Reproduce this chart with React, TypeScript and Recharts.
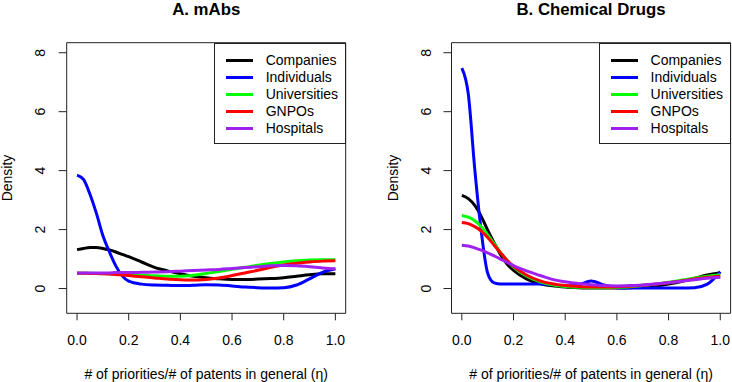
import { LineChart, Line, XAxis, YAxis, ReferenceArea, Legend, Label } from 'recharts'

// evaluation grid for the density curves
const xGrid = [
  0, 0.025, 0.05, 0.075, 0.1, 0.125, 0.15, 0.175, 0.2, 0.25, 0.3, 0.35, 0.4,
  0.45, 0.5, 0.55, 0.6, 0.65, 0.7, 0.75, 0.8, 0.85, 0.9, 0.95, 1,
]
const xTicks = [0, 0.2, 0.4, 0.6, 0.8, 1]
const yTicks = [0, 2, 4, 6, 8]

const groups = ['Companies', 'Individuals', 'Universities', 'GNPOs', 'Hospitals']
const groupColors = ['#000000', '#0000ff', '#00ff00', '#ff0000', '#a020f0']

// A. mAbs
const mabsCompanies = [1.32, 1.36, 1.39, 1.39, 1.36, 1.31, 1.24, 1.16, 1.08, 0.9, 0.72, 0.6, 0.5, 0.42, 0.37, 0.33, 0.31, 0.31, 0.32, 0.34, 0.37, 0.42, 0.47, 0.5, 0.5]
const mabsIndividuals = [3.85, 3.7, 3.2, 2.55, 1.8, 1.25, 0.77, 0.43, 0.25, 0.15, 0.12, 0.11, 0.1, 0.11, 0.13, 0.12, 0.09, 0.05, 0.03, 0.02, 0.03, 0.12, 0.33, 0.55, 0.67]
const mabsUniversities = [0.52, 0.52, 0.52, 0.51, 0.51, 0.5, 0.49, 0.48, 0.47, 0.45, 0.43, 0.42, 0.42, 0.45, 0.51, 0.58, 0.65, 0.72, 0.79, 0.85, 0.9, 0.94, 0.97, 0.98, 0.98]
const mabsGnpos = [0.52, 0.52, 0.51, 0.51, 0.5, 0.49, 0.48, 0.46, 0.44, 0.4, 0.36, 0.32, 0.3, 0.29, 0.31, 0.36, 0.44, 0.53, 0.62, 0.72, 0.8, 0.86, 0.9, 0.93, 0.94]
const mabsHospitals = [0.53, 0.53, 0.53, 0.53, 0.53, 0.53, 0.54, 0.54, 0.54, 0.55, 0.56, 0.57, 0.59, 0.61, 0.63, 0.65, 0.68, 0.71, 0.74, 0.77, 0.78, 0.77, 0.74, 0.7, 0.66]

// B. Chemical Drugs
const drugCompanies = [3.16, 3.05, 2.82, 2.45, 1.98, 1.55, 1.15, 0.83, 0.62, 0.33, 0.17, 0.09, 0.05, 0.03, 0.02, 0.02, 0.02, 0.03, 0.05, 0.09, 0.15, 0.24, 0.35, 0.46, 0.54]
const drugIndividuals = [7.48, 6.6, 4.05, 1.95, 0.52, 0.19, 0.15, 0.15, 0.15, 0.15, 0.15, 0.13, 0.08, 0.12, 0.26, 0.12, 0.03, 0.02, 0.02, 0.02, 0.02, 0.02, 0.03, 0.15, 0.57]
const drugUniversities = [2.48, 2.42, 2.3, 2.1, 1.82, 1.52, 1.22, 0.95, 0.73, 0.43, 0.24, 0.13, 0.07, 0.04, 0.03, 0.03, 0.04, 0.06, 0.1, 0.15, 0.21, 0.28, 0.35, 0.42, 0.47]
const drugGnpos = [2.24, 2.2, 2.1, 1.95, 1.73, 1.47, 1.21, 0.96, 0.75, 0.46, 0.27, 0.16, 0.1, 0.07, 0.05, 0.05, 0.06, 0.08, 0.11, 0.15, 0.2, 0.26, 0.32, 0.38, 0.42]
const drugHospitals = [1.47, 1.44, 1.38, 1.3, 1.21, 1.11, 1.0, 0.89, 0.78, 0.6, 0.45, 0.31, 0.23, 0.17, 0.13, 0.1, 0.09, 0.1, 0.12, 0.16, 0.2, 0.25, 0.3, 0.35, 0.38]

const X_DOMAIN: [number, number] = [-0.04, 1.04]
const Y_DOMAIN: [number, number] = [-0.84, 8.34]

const FONT = '"Liberation Sans", Arial, Helvetica, sans-serif'
const INK = '#222'

const CHART_W = 366
const CHART_H = 382
const PLOT_TOP = 42.7
const PLOT_BOTTOM = 313.3
const X_AXIS_H = 30
const Y_AXIS_W = 60

function buildRows(series: number[][]) {
  return xGrid.map((x, i) => {
    const row: Record<string, number> = { x }
    series.forEach((s, k) => {
      row[groups[k]] = s[i]
    })
    return row
  })
}

function LegendBox() {
  return (
    <div
      style={{
        width: 131.4,
        height: 101.6,
        boxSizing: 'border-box',
        border: `1px solid ${INK}`,
        background: '#fff',
        paddingTop: 8,
        fontFamily: FONT,
        fontSize: 14,
        color: '#000',
      }}
    >
      {groups.map((g, i) => (
        <div key={g} style={{ display: 'flex', alignItems: 'center', height: 17 }}>
          <span
            style={{
              display: 'inline-block',
              marginLeft: 10.7,
              width: 27,
              height: 3,
              background: groupColors[i],
            }}
          />
          <span style={{ marginLeft: 12.7, lineHeight: '17px' }}>{g}</span>
        </div>
      ))}
    </div>
  )
}

function Panel({
  title,
  series,
  plotLeft,
  plotRight,
  tickLabelX,
  densityX,
}: {
  title: string
  series: number[][]
  plotLeft: number
  plotRight: number
  tickLabelX: number
  densityX: number
}) {
  const rows = buildRows(series)
  const midX = (plotLeft + plotRight) / 2
  const midY = (PLOT_TOP + PLOT_BOTTOM) / 2

  return (
    <LineChart
      width={CHART_W}
      height={CHART_H}
      data={rows}
      margin={{
        top: PLOT_TOP,
        right: CHART_W - plotRight,
        bottom: CHART_H - PLOT_BOTTOM - X_AXIS_H,
        left: plotLeft - Y_AXIS_W,
      }}
    >
      <XAxis
        dataKey="x"
        type="number"
        domain={X_DOMAIN}
        ticks={xTicks}
        allowDataOverflow
        height={X_AXIS_H}
        axisLine={false}
        tickSize={7}
        tickLine={{ stroke: INK }}
        tick={({ x, payload }: any) => (
          <text x={x} y={345} textAnchor="middle" fontFamily={FONT} fontSize={14} fill="#000">
            {Number(payload.value).toFixed(1)}
          </text>
        )}
      >
        <Label
          content={() => (
            <g>
              <text x={midX} y={378.5} textAnchor="middle" fontFamily={FONT} fontSize={14} fill="#000">
                # of priorities/# of patents in general (η)
              </text>
              <text
                x={midX}
                y={15}
                textAnchor="middle"
                fontFamily={FONT}
                fontSize={16.8}
                fontWeight="bold"
                fill="#000"
              >
                {title}
              </text>
            </g>
          )}
        />
      </XAxis>
      <YAxis
        type="number"
        domain={Y_DOMAIN}
        ticks={yTicks}
        allowDataOverflow
        width={Y_AXIS_W}
        axisLine={false}
        tickSize={8}
        tickLine={{ stroke: INK }}
        tick={({ y, payload }: any) => (
          <text
            x={tickLabelX}
            y={y}
            transform={`rotate(-90, ${tickLabelX}, ${y})`}
            textAnchor="middle"
            fontFamily={FONT}
            fontSize={14}
            fill="#000"
          >
            {payload.value}
          </text>
        )}
      >
        <Label
          content={() => (
            <text
              x={densityX}
              y={midY}
              transform={`rotate(-90, ${densityX}, ${midY})`}
              textAnchor="middle"
              fontFamily={FONT}
              fontSize={14}
              fill="#000"
            >
              Density
            </text>
          )}
        />
      </YAxis>
      <ReferenceArea
        x1={X_DOMAIN[0]}
        x2={X_DOMAIN[1]}
        y1={Y_DOMAIN[0]}
        y2={Y_DOMAIN[1]}
        fill="none"
        stroke={INK}
        strokeWidth={1}
        ifOverflow="visible"
      />
      {groups.map((g, i) => (
        <Line
          key={g}
          type="monotone"
          dataKey={g}
          stroke={groupColors[i]}
          strokeWidth={3}
          dot={false}
          isAnimationActive={false}
        />
      ))}
      <Legend
        layout="vertical"
        align="center"
        verticalAlign="middle"
        wrapperStyle={{ left: plotRight - 131.4, top: PLOT_TOP, width: 131.4, height: 101.6 }}
        content={() => <LegendBox />}
      />
    </LineChart>
  )
}

export default function App() {
  return (
    <div style={{ position: 'absolute', left: 0, top: 0, width: 732, height: 382, background: '#fff' }}>
      <div style={{ position: 'absolute', left: 0, top: 0 }}>
        <Panel
          title="A. mAbs"
          series={[mabsCompanies, mabsIndividuals, mabsUniversities, mabsGnpos, mabsHospitals]}
          plotLeft={66.7}
          plotRight={345.7}
          tickLabelX={45.5}
          densityX={11.5}
        />
      </div>
      <div style={{ position: 'absolute', left: 366, top: 0 }}>
        <Panel
          title="B. Chemical Drugs"
          series={[drugCompanies, drugIndividuals, drugUniversities, drugGnpos, drugHospitals]}
          plotLeft={85.5}
          plotRight={364.6}
          tickLabelX={65}
          densityX={31.7}
        />
      </div>
    </div>
  )
}
